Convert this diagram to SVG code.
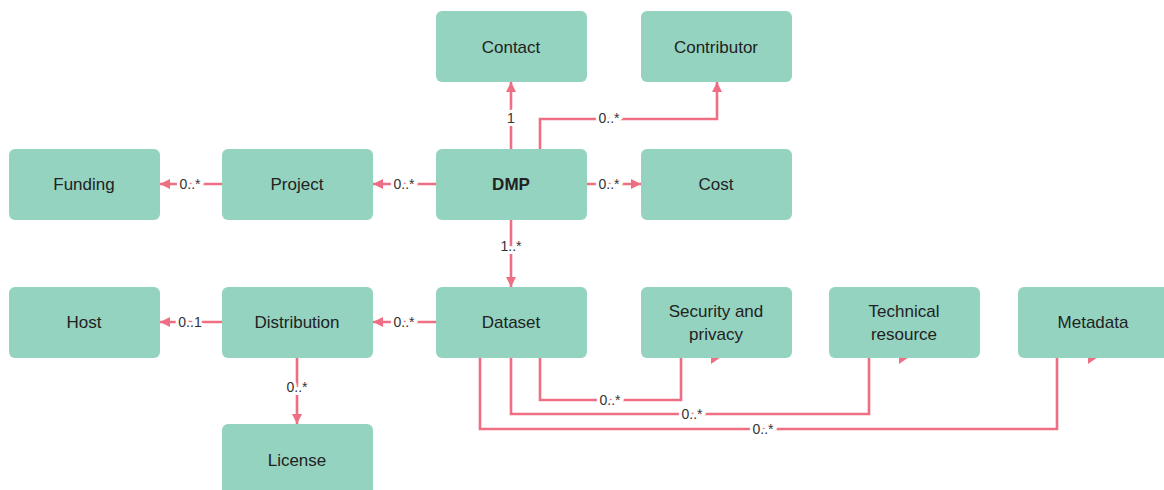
<svg xmlns="http://www.w3.org/2000/svg" width="1164" height="490" viewBox="0 0 1164 490">
<style>
.node rect{fill:#94d3c0}
.node text{font-family:"Liberation Sans",Arial,sans-serif;font-size:17px;fill:#222;text-anchor:middle;dominant-baseline:central}
.edge{fill:none;stroke:#ee6f83;stroke-width:2.6}
.lbl{font-family:"Liberation Sans",Arial,sans-serif;font-size:14px;fill:#333;text-anchor:middle;dominant-baseline:central;stroke:#fff;stroke-width:6;paint-order:stroke}
.stray{fill:#ee6f83}
</style>
<defs>
<marker id="arr" viewBox="0 0 10 10" refX="10" refY="5" markerWidth="10" markerHeight="10" markerUnits="userSpaceOnUse" orient="auto">
<path d="M0,0 L10,5 L0,10 z" fill="#ee6f83"/>
</marker>
</defs>
<rect width="1164" height="490" fill="#fff"/>
<g id="connectors">
<path class="edge" d="M511,149 V82" marker-end="url(#arr)"/>
<path class="edge" d="M540,149 V119 H717 V82" marker-end="url(#arr)"/>
<path class="edge" d="M586,184 H641" marker-end="url(#arr)"/>
<path class="edge" d="M436,184 H373" marker-end="url(#arr)"/>
<path class="edge" d="M222,184 H160" marker-end="url(#arr)"/>
<path class="edge" d="M511,219 V287" marker-end="url(#arr)"/>
<path class="edge" d="M436,322 H373" marker-end="url(#arr)"/>
<path class="edge" d="M222,322 H160" marker-end="url(#arr)"/>
<path class="edge" d="M297,357 V424" marker-end="url(#arr)"/>
<path class="edge" d="M540,357 V400 H681 V357"/>
<path class="edge" d="M511,357 V414 H869 V357"/>
<path class="edge" d="M480,357 V429 H1057 V357"/>
<polygon class="stray" points="711,350 724,355 711,364"/>
<polygon class="stray" points="899,350 912,355 899,364"/>
<polygon class="stray" points="1088,350 1101,355 1088,364"/>
<text class="lbl" x="511" y="118">1</text>
<text class="lbl" x="609" y="118">0..*</text>
<text class="lbl" x="609" y="184">0..*</text>
<text class="lbl" x="404" y="184">0..*</text>
<text class="lbl" x="190" y="184">0..*</text>
<text class="lbl" x="511" y="246">1..*</text>
<text class="lbl" x="404" y="322">0..*</text>
<text class="lbl" x="190" y="322">0..1</text>
<text class="lbl" x="297" y="387">0..*</text>
<text class="lbl" x="610" y="400">0..*</text>
<text class="lbl" x="692" y="414">0..*</text>
<text class="lbl" x="763" y="429">0..*</text>
</g>
<g id="contact" class="node"><rect x="436" y="11" width="151" height="71" rx="6"/><text x="511" y="47">Contact</text></g>
<g id="contributor" class="node"><rect x="641" y="11" width="151" height="71" rx="6"/><text x="716" y="47">Contributor</text></g>
<g id="funding" class="node"><rect x="9" y="149" width="151" height="71" rx="6"/><text x="84" y="184">Funding</text></g>
<g id="project" class="node"><rect x="222" y="149" width="151" height="71" rx="6"/><text x="297" y="184">Project</text></g>
<g id="dmp" class="node"><rect x="436" y="149" width="151" height="71" rx="6"/><text x="511" y="184" font-weight="bold">DMP</text></g>
<g id="cost" class="node"><rect x="641" y="149" width="151" height="71" rx="6"/><text x="716" y="184">Cost</text></g>
<g id="host" class="node"><rect x="9" y="287" width="151" height="71" rx="6"/><text x="84" y="322">Host</text></g>
<g id="distribution" class="node"><rect x="222" y="287" width="151" height="71" rx="6"/><text x="297" y="322">Distribution</text></g>
<g id="dataset" class="node"><rect x="436" y="287" width="151" height="71" rx="6"/><text x="511" y="322">Dataset</text></g>
<g id="security" class="node"><rect x="641" y="287" width="151" height="71" rx="6"/><text x="716" y="311">Security and</text><text x="716" y="334">privacy</text></g>
<g id="technical" class="node"><rect x="829" y="287" width="151" height="71" rx="6"/><text x="904" y="311">Technical</text><text x="904" y="334">resource</text></g>
<g id="metadata" class="node"><rect x="1018" y="287" width="151" height="71" rx="6"/><text x="1093" y="322">Metadata</text></g>
<g id="license" class="node"><rect x="222" y="424" width="151" height="71" rx="6"/><text x="297" y="460">License</text></g>
</svg>
